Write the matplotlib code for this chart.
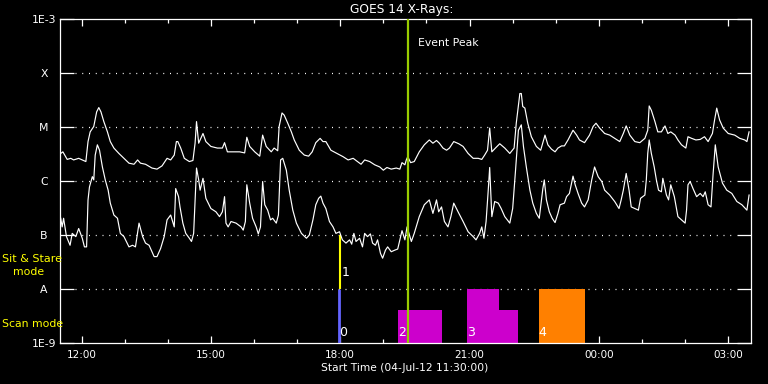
import numpy as np
import matplotlib
matplotlib.use("Agg")
import matplotlib.pyplot as plt

# ---------------- DATA ----------------
# time axis: minutes after start time 04-Jul-12 11:30:00
x_range_min = [0, 961]
xtick_min = [30, 210, 390, 570, 750, 930]
xtick_labels = ["12:00", "15:00", "18:00", "21:00", "00:00", "03:00"]

ytick_log = [-9, -8, -7, -6, -5, -4, -3]
ytick_labels = ["1E-9", "A", "B", "C", "M", "X", "1E-3"]
class_levels_log = [-8, -7, -6, -5, -4]

# GOES 14 long channel (1-8 A), log10 flux
long_min = [1,4,10,15,19,26,31,36,39,42,47,51,54,57,61,66,70,75,82,89,
            96,103,108,112,119,128,135,142,149,154,159,162,164,168,173,180,185,188,190,193,
            195,199,203,210,219,226,229,233,240,250,257,260,264,271,278,282,287,294,298,303,
            305,309,312,317,322,326,333,340,346,351,356,362,366,370,377,387,394,401,408,412,
            419,424,431,438,445,450,455,461,468,473,476,480,482,484,488,493,500,507,514,519,
            524,528,533,538,542,548,555,561,568,575,582,587,591,595,598,601,606,612,619,626,
            632,635,640,642,644,647,651,656,663,669,675,679,684,689,693,698,702,707,714,719,
            723,730,737,742,746,751,758,765,772,779,784,788,793,800,807,814,818,820,823,828,
            832,837,842,846,850,856,860,865,871,874,879,885,891,897,902,908,911,914,918,923,
            930,939,946,953,956,959]
long_log = [-5.49,-5.46,-5.60,-5.58,-5.61,-5.58,-5.61,-5.64,-5.27,-5.09,
            -4.99,-4.72,-4.64,-4.72,-4.90,-5.09,-5.27,-5.39,-5.49,-5.58,
            -5.67,-5.69,-5.61,-5.67,-5.69,-5.76,-5.78,-5.72,-5.58,-5.61,
            -5.52,-5.27,-5.27,-5.39,-5.58,-5.64,-5.62,-5.30,-4.90,-5.30,
            -5.24,-5.12,-5.27,-5.36,-5.39,-5.39,-5.29,-5.46,-5.46,-5.46,
            -5.48,-5.19,-5.36,-5.46,-5.54,-5.15,-5.36,-5.46,-5.39,-5.44,
            -4.99,-4.74,-4.78,-4.93,-5.09,-5.24,-5.43,-5.52,-5.54,-5.46,
            -5.29,-5.21,-5.27,-5.27,-5.43,-5.50,-5.55,-5.61,-5.58,-5.62,
            -5.69,-5.61,-5.64,-5.70,-5.74,-5.80,-5.75,-5.78,-5.76,-5.78,
            -5.66,-5.70,-5.61,-5.55,-5.66,-5.64,-5.46,-5.33,-5.24,-5.30,
            -5.25,-5.30,-5.39,-5.43,-5.39,-5.27,-5.31,-5.36,-5.49,-5.58,
            -5.58,-5.60,-5.52,-5.43,-5.02,-5.46,-5.39,-5.31,-5.39,-5.49,
            -5.39,-4.93,-4.38,-4.38,-4.62,-4.65,-4.93,-5.18,-5.36,-5.43,
            -5.15,-5.33,-5.41,-5.46,-5.39,-5.35,-5.35,-5.24,-5.06,-5.15,
            -5.24,-5.29,-5.15,-4.99,-4.93,-5.02,-5.12,-5.15,-5.21,-5.27,
            -5.12,-4.98,-5.15,-5.27,-5.29,-5.21,-5.06,-4.61,-4.69,-4.90,
            -5.09,-5.09,-4.98,-5.12,-5.09,-5.15,-5.24,-5.33,-5.39,-5.18,
            -5.21,-5.24,-5.23,-5.18,-5.27,-5.12,-4.87,-4.65,-4.87,-5.02,
            -5.12,-5.15,-5.21,-5.24,-5.27,-5.09]

# GOES 14 short channel (0.5-4 A), log10 flux
short_min = [1,3,5,9,14,17,22,26,31,34,37,39,41,45,47,49,52,55,59,63,
             67,70,75,80,84,89,96,101,105,110,115,119,124,131,135,140,145,149,154,159,
             161,165,167,171,175,180,183,186,188,190,193,195,199,203,210,217,222,226,229,231,
             234,238,245,252,255,258,260,264,268,273,276,279,282,285,289,293,296,301,304,307,
             310,315,319,324,329,336,343,347,352,356,360,363,366,370,375,380,384,389,393,398,
             403,406,409,412,417,421,424,428,432,435,439,442,446,449,453,456,461,466,470,474,
             476,480,483,489,493,500,507,514,519,524,527,531,535,540,544,548,554,561,568,575,
             579,584,587,590,593,596,598,601,605,610,614,619,626,630,634,638,642,645,649,654,
             658,663,667,670,672,674,677,681,685,689,693,696,702,705,709,714,717,721,726,730,
             735,740,744,749,754,758,765,772,778,781,784,788,792,795,800,805,808,814,816,818,
             820,823,827,830,833,837,839,844,847,850,855,860,865,870,872,874,877,881,886,891,
             895,898,902,906,909,912,916,922,928,935,942,949,956,959]
short_log = [-6.69,-6.85,-6.69,-7.03,-7.19,-6.97,-7.03,-6.88,-7.06,-7.22,
             -7.22,-6.35,-6.11,-5.92,-5.98,-5.52,-5.33,-5.43,-5.74,-5.98,
             -6.17,-6.41,-6.63,-6.69,-6.97,-7.03,-7.22,-7.19,-7.22,-6.78,
             -7.03,-7.15,-7.19,-7.40,-7.40,-7.25,-7.03,-6.72,-6.63,-6.85,
             -6.14,-6.29,-6.48,-6.78,-6.97,-7.06,-7.12,-6.97,-6.35,-5.76,
             -5.98,-6.17,-5.95,-6.32,-6.51,-6.57,-6.66,-6.57,-6.29,-6.78,
             -6.85,-6.75,-6.78,-6.85,-6.91,-6.75,-6.07,-6.41,-6.69,-6.85,
             -6.98,-6.85,-6.01,-6.44,-6.54,-6.72,-6.69,-6.78,-6.63,-5.61,
             -5.58,-5.80,-6.17,-6.54,-6.78,-6.97,-7.06,-7.00,-6.72,-6.44,
             -6.32,-6.28,-6.41,-6.51,-6.75,-6.85,-6.97,-6.94,-7.09,-7.15,
             -7.09,-7.17,-6.97,-7.12,-7.06,-7.22,-6.97,-7.03,-6.98,-7.15,
             -7.19,-7.09,-7.34,-7.43,-7.28,-7.22,-7.31,-7.28,-7.26,-7.03,
             -6.92,-7.09,-6.85,-7.12,-6.97,-6.66,-6.44,-6.35,-6.60,-6.35,
             -6.57,-6.48,-6.75,-6.85,-6.66,-6.41,-6.57,-6.75,-6.94,-7.03,
             -7.09,-6.97,-6.85,-7.06,-6.75,-6.17,-5.75,-6.66,-6.38,-6.41,
             -6.51,-6.66,-6.78,-6.51,-5.80,-5.06,-4.96,-5.36,-5.74,-6.17,
             -6.41,-6.60,-6.69,-6.35,-6.14,-5.98,-6.35,-6.57,-6.69,-6.77,
             -6.60,-6.44,-6.41,-6.29,-6.23,-5.91,-6.07,-6.23,-6.41,-6.48,
             -6.35,-5.98,-5.74,-5.92,-6.01,-6.17,-6.26,-6.38,-6.51,-6.35,
             -6.17,-5.86,-6.17,-6.48,-6.51,-6.54,-6.32,-6.26,-5.98,-5.49,
             -5.24,-5.49,-5.74,-5.98,-6.17,-6.20,-5.95,-6.26,-6.35,-6.07,
             -6.29,-6.66,-6.72,-6.78,-6.54,-6.07,-6.01,-6.14,-6.29,-6.23,
             -6.29,-6.20,-6.44,-6.48,-5.86,-5.33,-5.74,-6.04,-6.17,-6.23,
             -6.38,-6.44,-6.54,-6.26]

event_peak_min = 484

# observations: sit & stare (1) and scan mode (0, 2, 3, 4)
sitstare_min = [390]
sitstare_label = ["1"]
scan_line_min = [388.5]
scan_line_label = ["0"]
scan_start = [470, 567, 611, 666]
scan_end = [532, 611, 637, 730]
scan_top_log = [-8.39, -8.0, -8.39, -8.0]
scan_colors = ["#cc00cc", "#cc00cc", "#cc00cc", "#ff8000"]
scan_labels = ["2", "3", "", "4"]

# ---------------- PLOT ----------------
W, H = 768, 384
fig = plt.figure(figsize=(W / 100, H / 100), dpi=100, facecolor="black")
ax = fig.add_axes([60 / W, 1 - 343 / H, 690.5 / W, 324 / H], facecolor="black")
ax.set_yscale("log")
ax.set_xlim(*x_range_min)
ax.set_ylim(10.0 ** ytick_log[0], 10.0 ** ytick_log[-1])

for s in ax.spines.values():
    s.set_color("white")
    s.set_linewidth(0.9)

# dotted class-level lines
for lv in class_levels_log:
    ax.axhline(10.0 ** lv, xmin=15 / 690, xmax=1 - 15 / 690, color="white",
               lw=0.9, ls=(0, (0.8, 4.6)), zorder=1)

# scan-mode bars
for s0, s1, top, c, lab in zip(scan_start, scan_end, scan_top_log, scan_colors, scan_labels):
    ax.bar(s0, 10.0 ** top - 1e-9, width=s1 - s0, bottom=1e-9, align="edge",
           color=c, edgecolor="none", zorder=2)
    if lab:
        ax.text(s0, 10 ** -8.81, lab, color="white", fontsize=9, ha="left",
                va="center", zorder=5)

# scan line 0 (blue) and sit & stare 1 (yellow)
for t, lab in zip(scan_line_min, scan_line_label):
    ax.vlines(t, 1e-9, 1e-8, color="#6464ff", lw=2.0, zorder=3)
    ax.text(t - 0.5, 10 ** -8.81, lab, color="white", fontsize=9, ha="left",
            va="center", zorder=5)
for t, lab in zip(sitstare_min, sitstare_label):
    ax.vlines(t, 1e-8, 1e-7, color="#ffff00", lw=1.5, zorder=3)
    ax.text(t + 1.5, 10 ** -7.69, lab, color="white", fontsize=9, ha="left",
            va="center", zorder=5)

# GOES curves
ax.plot(long_min, 10.0 ** np.array(long_log), color="white", lw=0.85, zorder=4)
ax.plot(short_min, 10.0 ** np.array(short_log), color="white", lw=0.85, zorder=4)

# event peak
ax.axvline(event_peak_min, color="#99cc00", lw=1.6, zorder=6)
ax.annotate("Event Peak", xy=(event_peak_min, 1), xycoords=("data", "axes fraction"),
            xytext=(10, -24), textcoords="offset pixels", color="white",
            fontsize=7.8, ha="left", va="center")

# ticks
ax.set_xticks(xtick_min)
ax.set_xticklabels(xtick_labels)
ax.set_xticks(np.arange(xtick_min[0], x_range_min[1], 60), minor=True)
ax.tick_params(axis="x", which="major", direction="in", length=5, width=0.9,
               colors="white", labelsize=7.5, top=True, bottom=True, pad=5)
ax.tick_params(axis="x", which="minor", direction="in", length=2.6, width=0.9,
               colors="white", top=True, bottom=True)

ax.set_yticks([10.0 ** v for v in ytick_log])
ax.set_yticklabels(ytick_labels)
ax.yaxis.set_minor_locator(matplotlib.ticker.NullLocator())
ax.tick_params(axis="y", which="major", direction="in", length=10.3, width=0.9,
               colors="white", labelsize=7.8, left=True, right=True, pad=11.5)
for lab in ax.get_yticklabels():
    lab.set_horizontalalignment("center")

# texts
fig.text(402 / W, 1 - 10 / H, "GOES 14 X-Rays:", color="white", fontsize=8.8,
         ha="center", va="center")
fig.text(405 / W, 1 - 368 / H, "Start Time (04-Jul-12 11:30:00)", color="white",
         fontsize=7.7, ha="center", va="center")
fig.text(2 / W, 1 - 259 / H, "Sit & Stare", color="#ffff00", fontsize=8.0,
         ha="left", va="center")
fig.text(13 / W, 1 - 272 / H, "mode", color="#ffff00", fontsize=7.8,
         ha="left", va="center")
fig.text(2 / W, 1 - 324 / H, "Scan mode", color="#ffff00", fontsize=7.8,
         ha="left", va="center")

fig.savefig("out.png", dpi=100, facecolor="black")
